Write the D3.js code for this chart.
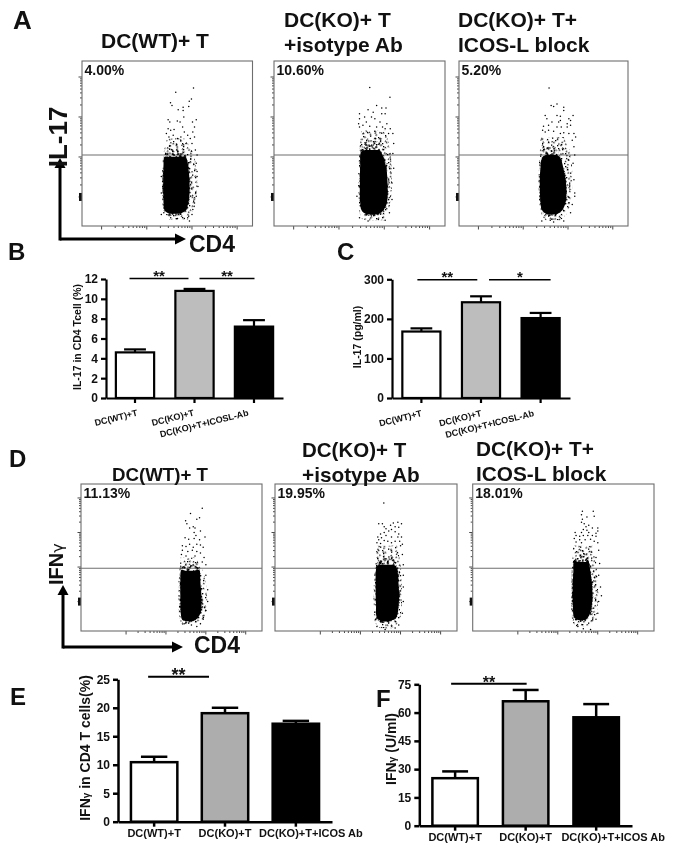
<!DOCTYPE html>
<html>
<head>
<meta charset="utf-8">
<script src="https://cdn.jsdelivr.net/npm/d3@7"></script>
<style>
  html, body { margin: 0; padding: 0; background: #fff; }
  svg { filter: blur(0.35px); }
  text { font-family: "Liberation Sans", Arial, sans-serif; font-weight: bold; fill: #111; }
</style>
</head>
<body>
<div id="chart"></div>
<script>
// bar chart values
var catsShort = ["DC(WT)+T", "DC(KO)+T", "DC(KO)+T+ICOSL-Ab"]
var catsLong = ["DC(WT)+T", "DC(KO)+T", "DC(KO)+T+ICOS Ab"]
var il17Percent = [4.6, 10.8, 7.2]
var il17PercentTop = [4.9, 11.0, 7.85]
var il17Pg = [168, 242, 202]
var il17PgTop = [176, 257, 215]
var ifnPercent = [10.45, 19.05, 17.2]
var ifnPercentTop = [11.4, 20, 17.7]
var ifnUnits = [25.2, 66, 57.5]
var ifnUnitsTop = [28.8, 72, 64.5]

// flow plots, in channel units 0-100. rows are [channel y, left, right]
var a1Core = [[47,50,58],[41.8,47.9,61.3],[35.8,47.3,62.8],[25.7,47.1,63.6],[15.6,47.3,63.2],[9.5,47.9,61.3],[6.5,50.5,58.4]]
var a1Halo = [[53,50,60],[45,48,65],[35,47,67],[22,47,67.5],[12,47.5,66],[4,51,62]]
var a1Stray = [[55,81],[65.4,83.6],[51.9,74.7],[52.8,73],[64.2,77],[62.9,75.6],[59.3,72],[56.4,70.5],[59.3,70],[62.6,72.5],[59.7,66],[50.5,64.4],[51.5,63],[55.9,63.6],[57.5,63],[64.8,63],[67,64.4],[59,60],[66,60],[50.5,59],[52,58],[54,58.5],[60,57],[65,57],[62,55],[49.5,56],[51,54],[53.5,55],[56,53],[58,54],[63.5,53],[66,54],[64.5,50],[61,50],[66.5,46],[67.5,43],[67,38],[67.5,33],[68,24],[67,18],[66,14],[65,10],[62,5],[63,3],[60,4.5],[48,8],[46.5,7],[52,5],[56,4.5],[65.8,12],[64.5,7],[67.5,30],[46.5,20],[46.5,30]]

var a2Core = [[51,53,62],[45,50.5,63],[36,49.9,66],[25,49.7,66.9],[14,49.9,66.5],[9,51,64],[6,54,61]]
var a2Halo = [[58,51,65],[46,50,68],[32,49.3,69],[18,49.3,68.5],[8,50,66.5],[3.5,52,64]]
var a2Stray = [[56,84],[67.8,78],[55,70.5],[60,73],[63,71.5],[65.5,71.5],[50,68],[53,66],[57,66],[59,65],[58,69],[63,68],[65,68],[50,65],[49.5,62],[52,61],[54,63],[62,63],[66,62],[56,60.5],[60,60],[63.5,60],[65,59],[68,59],[69.5,56],[50,60],[67,56],[70,50],[69.5,44],[70,35],[69,26],[69,16],[67.5,8],[65,3.5],[61,4],[55,3],[50,5],[48.5,18]]

var a3Core = [[48,51,57],[42,49,60],[34,47.6,62.5],[24,47.3,64],[14,47.8,63.5],[9,49,61],[6,52,58]]
var a3Halo = [[54,48.5,62],[44,47.6,66],[32,47.2,67],[18,47.3,66.5],[8,48.5,64],[3.5,51,60]]
var a3Stray = [[53.3,83.7],[54.5,73],[56,72.5],[58,74],[62,72],[62,70],[51,67],[67.5,67],[58,67],[60,66.5],[52,65],[65,65],[60,64],[66,64],[55,63],[59,63],[64,62],[66,61],[50,60.5],[53,61],[58,60],[60.5,60],[64,60],[49.5,58],[51,57],[53,58],[56,57.5],[60,56],[62,56.5],[65,56],[68,56],[69,54],[67,52],[68,48],[68.5,43],[67.5,38],[68,28],[68.5,20],[68.5,18],[67,13],[66,8],[62,3],[49,3],[56,2.5],[54,3.5]]

var d1Core = [[46,57,63],[41.6,55,65.6],[32.5,54.4,66.5],[21.1,54.4,67.1],[12,54.6,66.5],[7.5,55.5,63.8],[5.7,57.3,61.6]]
var d1Halo = [[50,55,63],[42,54.5,67],[32,53.8,69],[21,53.8,69.7],[12,54,69],[4.5,55.5,66]]
var d1Stray = [[60.5,80],[67,83.5],[57.8,75],[58.5,73],[65.5,77],[64,76],[62,71],[60,70],[63,70],[62.5,67],[66,68],[63.5,65],[57.5,63.5],[59.5,62.5],[62.5,63],[65.5,62],[68.5,64],[64,59],[60,59],[66,58.5],[56,58],[58,57.5],[62,57],[67.5,57],[56,55],[59,54],[61.5,55],[64,54],[66,53],[55.5,52],[58,51],[63,51],[68,50],[67,47],[69,45],[69,38],[70,28],[70,20],[69,14],[67.5,8],[66,5],[64,3],[61,4],[57,5]]

var d2Core = [[50,57,65],[44,55.5,67],[30,54.8,68.5],[18,55,68.5],[9,55.5,67],[5.5,58,63]]
var d2Halo = [[58,56,67],[46,55,69],[30,54.3,69.6],[16,54.3,69.6],[6,55,68],[1.8,58,64]]
var d2Stray = [[59.8,87],[57,73],[59,73],[63.5,72],[65,73.5],[67.5,74],[69.5,73],[60,71],[66,71],[68,70.5],[61,69.5],[64,69],[60,67],[62.5,68],[66,67.5],[58,66],[61,65],[68,66],[56.5,64],[58.5,63.5],[64,64],[67.5,64],[69.5,64],[57,62],[60,61.5],[62,61],[66,61],[68.5,61],[64,60],[56,60],[58,59.5],[70,59],[69,58],[70,52],[70.5,45],[70.5,38],[70.5,30],[70.5,20],[70,12],[68,4],[60.5,1],[66,2],[56,3]]

var d3Core = [[52,57,63],[48.4,55.5,64],[40,55,65.5],[28,54.6,66.5],[16,54.8,66],[9,55.5,64],[6.4,58,62]]
var d3Halo = [[58,55.5,66],[48,55,68],[34,54.4,69],[18,54.4,69],[7,55,67],[3,57,63]]
var d3Stray = [[60.5,81.5],[66.5,81.5],[60,79],[63,77.5],[67,78],[60.5,76],[60,74],[61.5,73],[64,72],[62.5,71],[69,70],[66,70],[61,69],[63,68.5],[56.5,67],[60,67],[64,67],[68,66.5],[69,68],[57,65],[59,64.5],[61,65],[63.5,65],[66,65],[68,64.5],[56,63],[59,62],[62,62],[65,62.5],[67,61],[69,60],[57,60.5],[60,60],[69.5,55],[68,50],[70,46],[69.5,38],[70.5,30],[71,24],[69.5,20],[69,12],[68,8],[65,1],[61,1.5],[58,3]]

var svg = d3.select("#chart").append("svg")
    .attr("width", 676)
    .attr("height", 854)
    .style("display", "block")

// irregular stipple for the thin part of each cloud, layered at a few angles
var stippleDots = [[2,1],[9,0.5],[17,3],[23,1],[31,2.5],[38,0],[5,5],[13,6],[20,7.5],[27,6],[35,7],[1,10],[8,11.5],[16,10],[24,12],[30,10.5],[37,12.5],[4,15],[11,16.5],[19,14],[26,17],[33,15.5],[39,17],[0,20],[7,21],[14,19.5],[21,21.5],[29,20],[36,21],[3,25],[10,24.5],[18,26],[25,24],[32,26.5],[38,25],[6,29],[13,30],[20,28.5],[28,30.5],[35,29],[1,33],[9,34.5],[16,33],[23,35],[31,33.5],[37,34],[12,2.5],[28,14],[5,18],[34,22],[15,27],[22,32]]
var stippleAngles = [0, 23, 41, 67, 113, 151]
var defs = svg.append("defs")
stippleAngles.forEach(function (angle, i) {
    var p = defs.append("pattern")
        .attr("id", "stipple" + i)
        .attr("patternUnits", "userSpaceOnUse")
        .attr("patternTransform", "rotate(" + angle + ")")
        .attr("width", 40)
        .attr("height", 37)
    p.selectAll("rect").data(stippleDots).enter().append("rect")
        .attr("x", function (d) { return d[0] })
        .attr("y", function (d) { return d[1] })
        .attr("width", 1.3)
        .attr("height", 1.3)
        .attr("fill", "#000")
})

function flowPlot(opt) {
    var x = d3.scaleLinear().domain([0, 100]).range([opt.left, opt.right])
    var y = d3.scaleLinear().domain([0, 100]).range([opt.bottom, opt.top])
    var g = svg.append("g")

    var xLog = d3.scaleLog().domain([10, 10000]).range([x(opt.xDecades[0]), x(opt.xDecades[1])])
    var yLog = d3.scaleLog().domain([10, 10000]).range([y(opt.yDecades[0]), y(opt.yDecades[1])])
    var xTicks = xLog.ticks().filter(function (t) { return xLog(t) > opt.left })
    var yTicks = yLog.ticks()

    g.selectAll(".xt").data(xTicks).enter().append("line")
        .attr("x1", function (d) { return xLog(d) })
        .attr("x2", function (d) { return xLog(d) })
        .attr("y1", opt.bottom)
        .attr("y2", function (d) { return opt.bottom + (Math.log10(d) % 1 === 0 ? 3.5 : 2) })
        .attr("stroke", "#333").attr("stroke-width", 0.9)
    g.selectAll(".yt").data(yTicks).enter().append("line")
        .attr("y1", function (d) { return yLog(d) })
        .attr("y2", function (d) { return yLog(d) })
        .attr("x1", opt.left)
        .attr("x2", function (d) { return opt.left - (Math.log10(d) % 1 === 0 ? 3.5 : 2) })
        .attr("stroke", "#333").attr("stroke-width", 0.9)
    // the lowest decade prints as a heavy mark on the scan
    g.append("rect")
        .attr("x", opt.left - 3).attr("y", yLog(10) - 4).attr("width", 3).attr("height", 8).attr("fill", "#111")

    g.append("rect")
        .attr("x", opt.left).attr("y", opt.top)
        .attr("width", opt.right - opt.left).attr("height", opt.bottom - opt.top)
        .attr("fill", "#fff").attr("stroke", "#6e6e6e").attr("stroke-width", 1.1)
    g.append("line")
        .attr("x1", opt.left).attr("x2", opt.right)
        .attr("y1", y(opt.gate)).attr("y2", y(opt.gate))
        .attr("stroke", "#6e6e6e").attr("stroke-width", 1.1)

    var band = d3.area()
        .y(function (d) { return y(d[0]) })
        .x0(function (d) { return x(d[1]) })
        .x1(function (d) { return x(d[2]) })
        .curve(d3.curveCatmullRom)

    // thin halo, then dense stipple, then the solid middle inset from it
    stippleAngles.slice(0, 3).forEach(function (a, i) {
        g.append("path").attr("d", band(opt.halo)).attr("fill", "url(#stipple" + i + ")")
    })
    stippleAngles.forEach(function (a, i) {
        g.append("path").attr("d", band(opt.core)).attr("fill", "url(#stipple" + i + ")")
    })
    var solid = opt.core.map(function (r, i) {
        var dy = i === 0 ? -5 : (i === opt.core.length - 1 ? 1 : 0)
        return [r[0] + dy, r[1] + 0.5, r[2] - 0.5]
    })
    g.append("path").attr("d", band(solid)).attr("fill", "#000")

    g.selectAll(".dot").data(opt.stray).enter().append("circle")
        .attr("cx", function (d) { return x(d[0]) })
        .attr("cy", function (d) { return y(d[1]) })
        .attr("r", 0.75)
        .attr("fill", "#000")

    g.append("text").attr("x", opt.left + 2.5).attr("y", opt.top + opt.labelDy)
        .attr("font-size", 14).text(opt.percent)
}

var panelA = { top: 61, bottom: 226, xDecades: [11.5, 91], yDecades: [17.6, 90.3], labelDy: 14 }
var panelD = { top: 484, bottom: 631, xDecades: [24.9, 91], yDecades: [20, 90.5], labelDy: 13.5 }

flowPlot(Object.assign({ left: 82, right: 252.5, gate: 43, core: a1Core, halo: a1Halo, stray: a1Stray, percent: "4.00%" }, panelA))
flowPlot(Object.assign({ left: 274, right: 445, gate: 43, core: a2Core, halo: a2Halo, stray: a2Stray, percent: "10.60%" }, panelA))
flowPlot(Object.assign({ left: 459, right: 628, gate: 43, core: a3Core, halo: a3Halo, stray: a3Stray, percent: "5.20%" }, panelA))
flowPlot(Object.assign({ left: 81, right: 262, gate: 42.7, core: d1Core, halo: d1Halo, stray: d1Stray, percent: "11.13%" }, panelD))
flowPlot(Object.assign({ left: 275, right: 457, gate: 42.7, core: d2Core, halo: d2Halo, stray: d2Stray, percent: "19.95%" }, panelD))
flowPlot(Object.assign({ left: 472.7, right: 654, gate: 42.7, core: d3Core, halo: d3Halo, stray: d3Stray, percent: "18.01%" }, panelD))

function barChart(opt) {
    var y = d3.scaleLinear().domain([0, opt.max]).range([opt.y0, opt.y1])
    var x = d3.scaleBand().domain(opt.cats).range(opt.xRange)
        .paddingInner(opt.inner).paddingOuter(opt.outer)
    var g = svg.append("g")
    var sw = opt.stroke
    var fills = ["#fff", opt.grey, "#000"]
    var data = opt.cats.map(function (c, i) {
        return { key: c, value: opt.values[i], top: opt.tops[i], fill: fills[i] }
    })
    var capW = x.bandwidth() * 0.54

    g.selectAll(".stem").data(data).enter().append("line")
        .attr("x1", function (d) { return x(d.key) + x.bandwidth() / 2 })
        .attr("x2", function (d) { return x(d.key) + x.bandwidth() / 2 })
        .attr("y1", function (d) { return y(d.value) })
        .attr("y2", function (d) { return y(d.top) })
        .attr("stroke", "#000").attr("stroke-width", sw)
    g.selectAll(".cap").data(data).enter().append("line")
        .attr("x1", function (d) { return x(d.key) + x.bandwidth() / 2 - capW / 2 })
        .attr("x2", function (d) { return x(d.key) + x.bandwidth() / 2 + capW / 2 })
        .attr("y1", function (d) { return y(d.top) })
        .attr("y2", function (d) { return y(d.top) })
        .attr("stroke", "#000").attr("stroke-width", sw)
    g.selectAll(".bar").data(data).enter().append("rect")
        .attr("x", function (d) { return x(d.key) + sw / 2 })
        .attr("y", function (d) { return y(d.value) })
        .attr("width", x.bandwidth() - sw)
        .attr("height", function (d) { return opt.y0 - y(d.value) })
        .attr("fill", function (d) { return d.fill })
        .attr("stroke", "#000").attr("stroke-width", sw)

    var yAxis = g.append("g")
        .attr("transform", "translate(" + opt.xRange[0] + ",0)")
        .call(d3.axisLeft(y).tickValues(opt.ticks).tickSize(5).tickSizeOuter(0).tickPadding(3))
    var xAxis = g.append("g")
        .attr("transform", "translate(0," + opt.y0 + ")")
        .call(d3.axisBottom(x).tickSize(5).tickSizeOuter(0).tickFormat(""))
    g.selectAll(".domain, .tick line").attr("stroke", "#000").attr("stroke-width", sw)
    yAxis.selectAll("text").attr("font-size", 12).style("font-family", "Liberation Sans").style("font-weight", "bold").attr("fill", "#111")

    // category labels
    g.selectAll(".cat").data(data).enter().append("text")
        .attr("transform", function (d, i) {
            var cx = x(d.key) + x.bandwidth() / 2 + opt.labelDx[i]
            return "translate(" + cx + "," + opt.labelY + ") rotate(" + opt.labelRotate + ")"
        })
        .attr("text-anchor", opt.labelRotate ? "end" : "middle")
        .attr("font-size", opt.labelSize)
        .text(function (d) { return d.key })

    // y title, gamma drawn smaller as in the figure
    var title = g.append("text")
        .attr("transform", "translate(" + opt.titleX + "," + opt.titleY + ") rotate(-90)")
        .attr("text-anchor", "middle")
        .attr("font-size", opt.titleSize)
    opt.title.forEach(function (part) {
        title.append("tspan").attr("font-size", part[1] || null).text(part[0])
    })

    // significance bars
    opt.sig.forEach(function (s) {
        var x0 = x(opt.cats[s.from]) + x.bandwidth() / 2 + s.dx0
        var x1 = x(opt.cats[s.to]) + x.bandwidth() / 2 + s.dx1
        g.append("line")
            .attr("x1", x0).attr("x2", x1)
            .attr("y1", y(s.at)).attr("y2", y(s.at))
            .attr("stroke", "#000").attr("stroke-width", opt.sigWidth)
        g.append("text")
            .attr("x", (x0 + x1) / 2).attr("y", y(s.at) + opt.starDy)
            .attr("text-anchor", "middle")
            .attr("font-size", opt.starSize)
            .text(s.mark)
    })
}

barChart({
    cats: catsShort, values: il17Percent, tops: il17PercentTop, max: 12, ticks: [0, 2, 4, 6, 8, 10, 12],
    y0: 398, y1: 279, xRange: [106, 283], inner: 0.32, outer: 0.1475, stroke: 2.2, grey: "#bdbdbd",
    labelDx: [3, 0, -5], labelY: 415.5, labelRotate: -14, labelSize: 9,
    title: [["IL-17 in CD4 Tcell (%)"]], titleX: 81, titleY: 337, titleSize: 10.5,
    sig: [{ from: 0, to: 1, dx0: -5.5, dx1: -6, at: 12.05, mark: "**" }, { from: 1, to: 2, dx0: 5, dx1: 0.5, at: 12.05, mark: "**" }],
    sigWidth: 1.6, starDy: 2, starSize: 15
})
barChart({
    cats: catsShort, values: il17Pg, tops: il17PgTop, max: 300, ticks: [0, 100, 200, 300],
    y0: 398, y1: 279.3, xRange: [392, 570], inner: 0.324, outer: 0.155, stroke: 2.2, grey: "#bdbdbd",
    labelDx: [1, 1, -6], labelY: 416, labelRotate: -14, labelSize: 9,
    title: [["IL-17 (pg/ml)"]], titleX: 361, titleY: 337, titleSize: 10.5,
    sig: [{ from: 0, to: 1, dx0: -4, dx1: -3.7, at: 299, mark: "**" }, { from: 1, to: 2, dx0: 8, dx1: 10, at: 299, mark: "*" }],
    sigWidth: 1.6, starDy: 2, starSize: 15
})
barChart({
    cats: catsLong, values: ifnPercent, tops: ifnPercentTop, max: 25, ticks: [0, 5, 10, 15, 20, 25],
    y0: 821.7, y1: 679.3, xRange: [118, 332], inner: 0.31, outer: 0.165, stroke: 2.5, grey: "#adadad",
    labelDx: [0, 0, 15], labelY: 837, labelRotate: 0, labelSize: 11,
    title: [["IFN"], ["γ", 10], [" in CD4 T cells(%)"]], titleX: 90, titleY: 748, titleSize: 14,
    sig: [{ from: 0, to: 1, dx0: -6, dx1: -16, at: 25.45, mark: "**" }],
    sigWidth: 2, starDy: 4.5, starSize: 18
})
barChart({
    cats: catsLong, values: ifnUnits, tops: ifnUnitsTop, max: 75, ticks: [0, 15, 30, 45, 60, 75],
    y0: 825.7, y1: 684.3, xRange: [419.3, 632], inner: 0.32, outer: 0.168, stroke: 2.5, grey: "#adadad",
    labelDx: [0, 0, 17], labelY: 841, labelRotate: 0, labelSize: 11,
    title: [["IFN"], ["γ", 10.5], [" (U/ml)"]], titleX: 396, titleY: 749, titleSize: 14,
    sig: [{ from: 0, to: 1, dx0: -4, dx1: 1, at: 75.3, mark: "**" }],
    sigWidth: 2, starDy: 4, starSize: 16
})

// panel letters
var letters = [["A", 13, 29, 26], ["B", 8, 260, 24], ["C", 337, 260, 24], ["D", 9, 467, 24], ["E", 10, 705, 24], ["F", 376, 707, 24]]
svg.selectAll(".letter").data(letters).enter().append("text")
    .attr("x", function (d) { return d[1] })
    .attr("y", function (d) { return d[2] })
    .attr("font-size", function (d) { return d[3] })
    .text(function (d) { return d[0] })

// flow plot titles
var titles = [
    ["DC(WT)+ T", 101, 48, 21], ["DC(KO)+ T", 284, 27, 21], ["+isotype Ab", 284, 52, 21],
    ["DC(KO)+ T+", 458, 27, 21], ["ICOS-L block", 458, 52, 21],
    ["DC(WT)+ T", 112, 481, 18.7], ["DC(KO)+ T", 302, 457, 20.5], ["+isotype Ab", 302, 482, 20.8],
    ["DC(KO)+ T+", 476, 456, 20.8], ["ICOS-L block", 476, 481, 20.8]
]
svg.selectAll(".ptitle").data(titles).enter().append("text")
    .attr("x", function (d) { return d[1] })
    .attr("y", function (d) { return d[2] })
    .attr("font-size", function (d) { return d[3] })
    .text(function (d) { return d[0] })

// hand drawn axis arrows beside the flow plots
function arrows(ox, oy, topY, endX) {
    var a = svg.append("g")
    a.append("line").attr("x1", ox).attr("x2", ox).attr("y1", oy + 1.5).attr("y2", topY + 8)
        .attr("stroke", "#000").attr("stroke-width", 3)
    a.append("line").attr("x1", ox).attr("x2", endX - 8).attr("y1", oy).attr("y2", oy)
        .attr("stroke", "#000").attr("stroke-width", 3)
    a.append("path").attr("d", d3.line()([[ox - 5.5, topY + 10], [ox, topY], [ox + 5.5, topY + 10]]) + "Z")
    a.append("path").attr("d", d3.line()([[endX - 11, oy - 5.5], [endX, oy], [endX - 11, oy + 5.5]]) + "Z")
}
arrows(60, 239, 158, 186)
arrows(63, 647, 585, 183)

svg.append("text").attr("transform", "translate(67,137) rotate(-90)")
    .attr("text-anchor", "middle").attr("font-size", 26).text("IL-17")
svg.append("text").attr("x", 189).attr("y", 252).attr("font-size", 23).text("CD4")
var ifnLabel = svg.append("text").attr("transform", "translate(63,585) rotate(-90)").attr("font-size", 20)
ifnLabel.append("tspan").text("IFN")
ifnLabel.append("tspan").attr("font-size", 16).attr("style", "font-family:'DejaVu Sans';font-weight:normal").text("γ")
svg.append("text").attr("x", 194).attr("y", 653).attr("font-size", 23).text("CD4")
</script>
</body>
</html>
